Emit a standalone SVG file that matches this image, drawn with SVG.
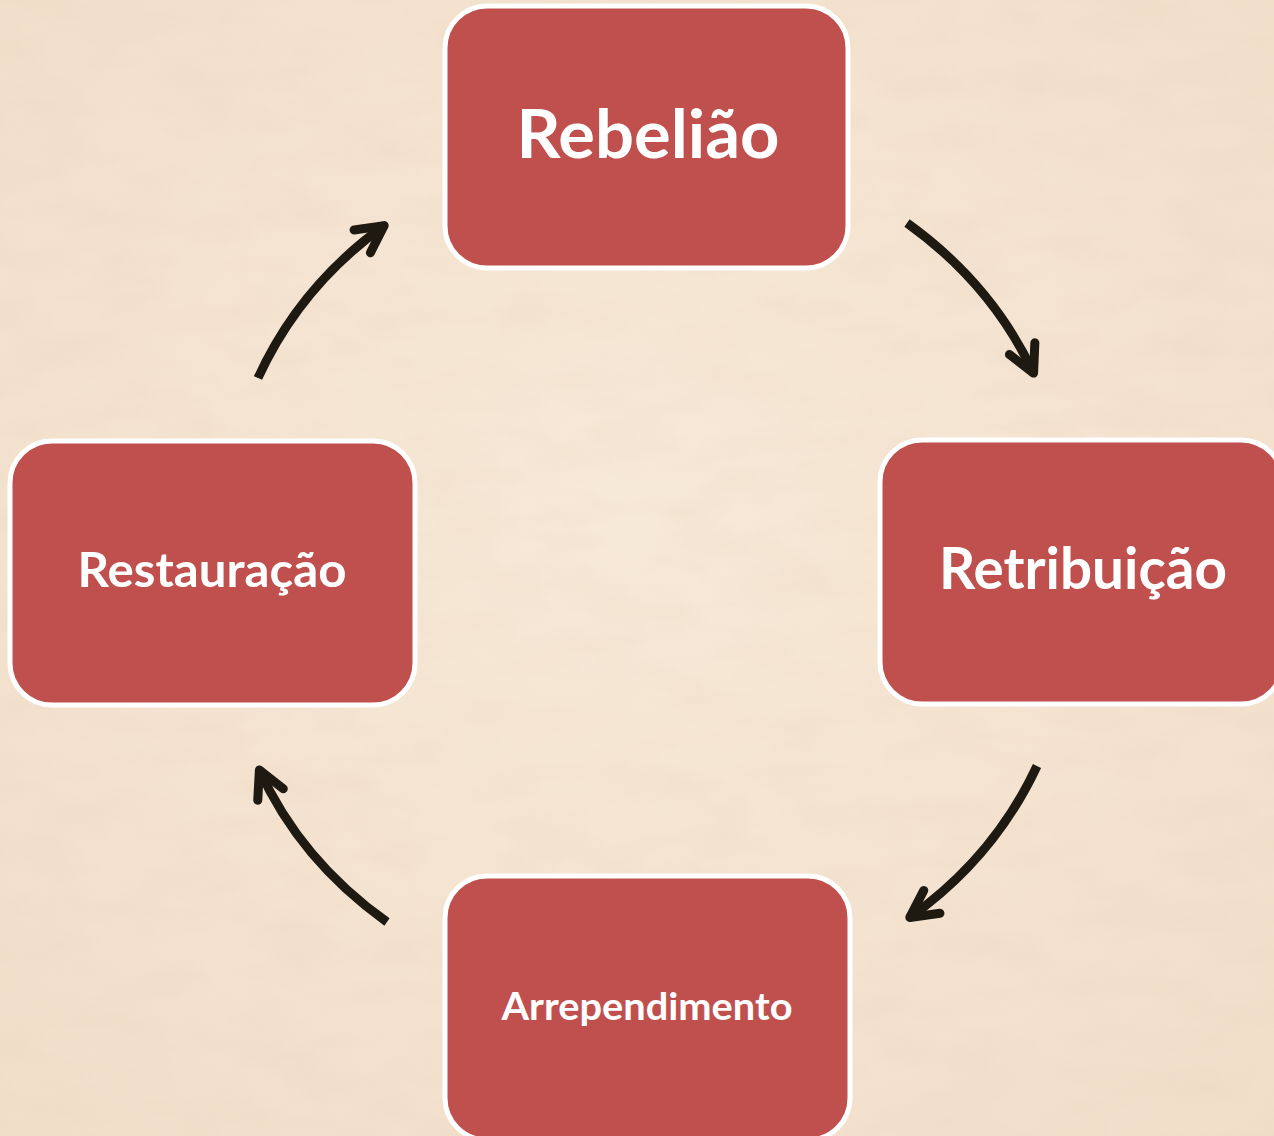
<svg xmlns="http://www.w3.org/2000/svg" width="1274" height="1136" viewBox="0 0 1274 1136">
  <style>
    .box { fill: #c0504d; stroke: #ffffff; stroke-width: 5; }
    .lbl { fill: #ffffff; font-family: Lato, "Open Sans", "Liberation Sans", sans-serif; font-weight: bold; text-anchor: middle; }
    .arrow { fill: none; stroke: #1e1a12; stroke-width: 9; stroke-linecap: butt; marker-end: url(#chev); }
  </style>
  <defs>
    <marker id="chev" markerUnits="userSpaceOnUse" viewBox="-40 -25 50 50" markerWidth="50" markerHeight="50" refX="0" refY="0" orient="auto" overflow="visible">
      <path d="M-28,-14 L-1,0 L-28,14" fill="none" stroke="#1e1a12" stroke-width="9" stroke-linecap="round" stroke-linejoin="round"/>
    </marker>
    <radialGradient id="bg" cx="0.5" cy="0.45" r="0.75">
      <stop offset="0" stop-color="#f7e9d8"/>
      <stop offset="1" stop-color="#f1dec9"/>
    </radialGradient>
    <filter id="tex" x="0" y="0" width="100%" height="100%">
      <feTurbulence type="fractalNoise" baseFrequency="0.012 0.03" numOctaves="4" seed="7" result="n"/>
      <feColorMatrix in="n" type="matrix" values="0 0 0 0 0.78  0 0 0 0 0.62  0 0 0 0 0.48  0 0 0 1.2 -0.45"/>
    </filter>
  </defs>

  <rect x="0" y="0" width="1274" height="1136" fill="url(#bg)"/>
  <rect x="0" y="0" width="1274" height="1136" filter="url(#tex)" opacity="0.3"/>

  <g id="connectors">
    <path class="arrow" d="M907,223 Q992,284 1034,374"/>
    <path class="arrow" d="M1037,766 Q994,858 909,918"/>
    <path class="arrow" d="M387,922 Q300,860 259,769"/>
    <path class="arrow" d="M258,378 Q300,286 385,225"/>
  </g>

  <g id="node-rebeliao">
    <rect class="box" x="445" y="6" width="403" height="262" rx="42" ry="42"/>
    <text class="lbl" x="648" y="158" font-size="67" textLength="263" lengthAdjust="spacingAndGlyphs">Rebelião</text>
  </g>
  <g id="node-retribuicao">
    <rect class="box" x="880" y="440" width="403" height="264" rx="42" ry="42"/>
    <text class="lbl" x="1083" y="589" font-size="57" textLength="288" lengthAdjust="spacingAndGlyphs">Retribuição</text>
  </g>
  <g id="node-arrependimento">
    <rect class="box" x="445" y="876" width="405" height="264" rx="42" ry="42"/>
    <text class="lbl" x="647" y="1020" font-size="38" textLength="291" lengthAdjust="spacingAndGlyphs">Arrependimento</text>
  </g>
  <g id="node-restauracao">
    <rect class="box" x="10" y="441" width="405" height="264" rx="42" ry="42"/>
    <text class="lbl" x="212" y="587" font-size="48" textLength="269" lengthAdjust="spacingAndGlyphs">Restauração</text>
  </g>
</svg>
